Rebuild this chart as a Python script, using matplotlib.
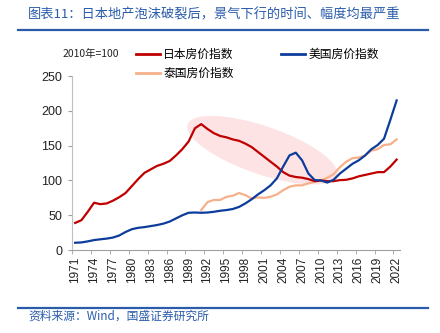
import matplotlib.pyplot as plt
import matplotlib.transforms as transforms
from matplotlib.patches import Ellipse
from matplotlib.lines import Line2D

plt.rcParams['font.family'] = ['Noto Sans CJK SC', 'DejaVu Sans']

years = list(range(1971, 2023))

japan = [39, 43, 55, 68, 66, 67, 71, 76, 82, 92,
         102, 111, 116, 121, 124, 128, 136, 145, 156, 175,
         181, 174, 168, 164, 162, 159, 157, 153, 148, 141,
         134, 127, 120, 112, 107, 105, 104, 102, 99, 100,
         99, 99, 100.5, 101, 103, 106, 108, 110, 112, 112,
         120, 130]

usa = [10.5, 11, 12.5, 14.4, 15.5, 16.5, 18, 21, 26, 30,
       32, 33, 34.5, 36, 38, 41, 45.5, 50, 53.6, 54,
       53.6, 54, 55, 56.5, 57.5, 59, 62, 67, 73, 80,
       86, 93, 103, 120, 136, 140, 129, 110, 100.6, 100,
       97, 101, 110, 117, 124, 129, 136, 145, 151, 160,
       187, 215]

thai_years = list(range(1991, 2023))
thai = [57.5, 69, 72, 72, 76.5, 78, 82, 79, 74, 75.7,
        75, 76.6, 80, 86, 91, 93, 93, 96, 98, 100,
        104, 109, 119, 127, 132, 133, 136, 143, 145, 151,
        152, 159]

x_labels = [str(y) for y in years[::3]]

red = '#C00000'
blue = '#0D3D9C'
orange = '#F6B08A'
title_blue = '#2A5CAA'

fig = plt.figure(figsize=(4.4, 3.33), dpi=100)
ax = fig.add_axes([0.1636, 0.249, 0.745, 0.5225])

xi = list(range(len(years)))
ti = [years.index(y) for y in thai_years]

# shaded ellipse over the decline period
trans = fig.dpi_scale_trans + transforms.ScaledTranslation(29.7, 143.5, ax.transData)
ax.add_patch(Ellipse((0, 0), 1.58, 0.48, angle=-19, transform=trans,
                     facecolor='#FDE3E4', edgecolor='none', zorder=0))

ax.plot(xi, japan, color=red, lw=1.6, solid_joinstyle='round', zorder=3)
ax.plot(xi, usa, color=blue, lw=1.6, solid_joinstyle='round', zorder=3)
ax.plot(ti, thai, color=orange, lw=1.6, solid_joinstyle='round', zorder=2)

ax.set_xlim(-0.5, len(years) - 0.5)
ax.set_ylim(0, 250)
ax.set_yticks(range(0, 251, 50))
ax.set_xticks(xi[::3])
ax.set_xticklabels(x_labels, rotation=90)
ax.set_xticks([i - 0.5 for i in range(0, len(years) + 1, 3)], minor=True)
ax.tick_params(axis='x', which='major', length=0, pad=5, labelsize=8.5, colors='#222222')
ax.tick_params(axis='x', which='minor', length=3, color='#A0A0A0', direction='out')
ax.tick_params(axis='y', length=3, color='#A0A0A0', labelsize=9, colors='#222222', pad=4)
for lab in ax.get_xticklabels() + ax.get_yticklabels():
    lab.set_family('Liberation Sans')

for s in ['top', 'right']:
    ax.spines[s].set_visible(False)
ax.spines['left'].set_color('#BFBFBF')
ax.spines['bottom'].set_color('#A0A0A0')

handles = [Line2D([], [], color=red, lw=2),
           Line2D([], [], color=orange, lw=2),
           Line2D([], [], color=blue, lw=2)]
labels = ['日本房价指数', '泰国房价指数', '美国房价指数']
fig.legend(handles, labels, ncol=2, frameon=False, loc='upper left',
           bbox_to_anchor=(0.285, 0.888), fontsize=8.5, handlelength=2.0,
           handletextpad=0.3, columnspacing=4.0, labelspacing=0.5)
fig.text(0.143, 0.838, '2010年=100', fontsize=7.5, color='#222222', va='center')

fig.text(0.064, 0.955, '图表11：日本地产泡沫破裂后，景气下行的时间、幅度均最严重',
         fontsize=9.5, color=title_blue, va='center', style='italic')
fig.add_artist(Line2D([0.041, 0.973], [0.911, 0.911], color=title_blue, lw=1.6))
fig.add_artist(Line2D([0.041, 0.973], [0.076, 0.076], color=title_blue, lw=1.6))
fig.text(0.064, 0.05, '资料来源：Wind，国盛证券研究所', fontsize=8.5, color=title_blue,
         va='center', style='italic')

fig.savefig('out.png', dpi=100)
